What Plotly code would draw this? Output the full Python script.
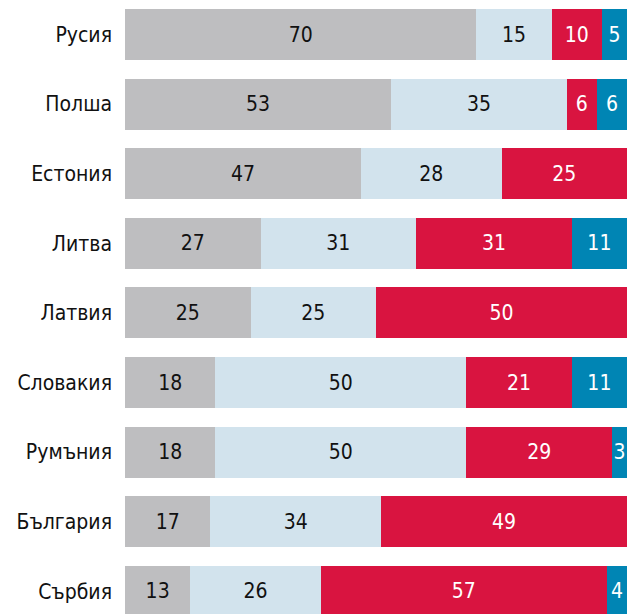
import plotly.graph_objects as go

countries = ["Русия", "Полша", "Естония", "Литва", "Латвия", "Словакия", "Румъния", "България", "Сърбия"]
grey_vals = [70, 53, 47, 27, 25, 18, 18, 17, 13]
lightblue_vals = [15, 35, 28, 31, 25, 50, 50, 34, 26]
red_vals = [10, 6, 25, 31, 50, 21, 29, 49, 57]
blue_vals = [5, 6, 0, 11, 0, 11, 3, 0, 4]

series = [
    (grey_vals, "#bebec0", "#111111"),
    (lightblue_vals, "#d2e3ed", "#111111"),
    (red_vals, "#d91440", "#ffffff"),
    (blue_vals, "#0085b4", "#ffffff"),
]

FONT = "DejaVu Sans Condensed, Liberation Sans Narrow, sans-serif"

fig = go.Figure()
for vals, color, tcolor in series:
    fig.add_trace(go.Bar(
        y=countries,
        x=vals,
        orientation="h",
        marker=dict(color=color, line=dict(width=0)),
        text=[str(v) if v else "" for v in vals],
        textposition="inside",
        insidetextanchor="middle",
        constraintext="none",
        textfont=dict(family=FONT, size=21, color=tcolor),
        hoverinfo="skip",
    ))

fig.update_layout(
    barmode="stack",
    bargap=0.267,
    width=644,
    height=614,
    margin=dict(l=125, r=17, t=0, b=0, autoexpand=False),
    plot_bgcolor="white",
    paper_bgcolor="white",
    showlegend=False,
    font=dict(family=FONT, size=21, color="#111111"),
    xaxis=dict(range=[0, 100], visible=False, fixedrange=True, automargin=False),
    yaxis=dict(
        categoryorder="array",
        categoryarray=countries,
        range=[8.326, -0.496],
        showgrid=False,
        zeroline=False,
        showline=False,
        ticks="",
        automargin=False,
        ticklabelstandoff=12,
        tickfont=dict(family=FONT, size=21, color="#111111"),
    ),
)

fig.write_html(
    "out.html",
    config={"displayModeBar": False, "staticPlot": True},
    post_script="document.body.style.margin='0';document.body.style.overflow='hidden';",
)
